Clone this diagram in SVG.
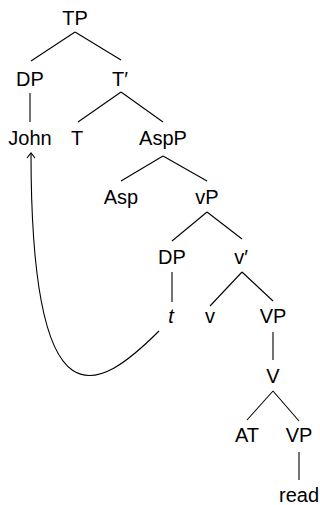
<svg xmlns="http://www.w3.org/2000/svg" width="320" height="505" viewBox="0 0 320 505">
<style>
text{font-family:"Liberation Sans",Arial,sans-serif;font-size:20px;fill:#000;text-anchor:middle}
.it{font-style:italic}
line,path{stroke:#000;stroke-width:1.1;fill:none}
</style>
<defs>
<marker id="ah" viewBox="-6 -5 8 10" markerWidth="8" markerHeight="10" refX="0" refY="0" orient="auto" markerUnits="userSpaceOnUse">
<path d="M-5,-4 L0,0 L-5,4" stroke="#000" stroke-width="1.1" fill="none"/>
</marker>
</defs>
<g id="connectors">
<line x1="75" y1="32" x2="31" y2="61"/>
<line x1="75" y1="32" x2="121" y2="60"/>
<line x1="30" y1="93" x2="30" y2="122"/>
<line x1="121" y1="92" x2="78" y2="122"/>
<line x1="121" y1="92" x2="163" y2="122"/>
<line x1="163" y1="156" x2="121" y2="181"/>
<line x1="163" y1="156" x2="207" y2="181"/>
<line x1="207" y1="212" x2="172" y2="241"/>
<line x1="207" y1="212" x2="242" y2="239"/>
<line x1="172" y1="272" x2="172" y2="302"/>
<line x1="242" y1="272" x2="210" y2="306"/>
<line x1="242" y1="272" x2="273" y2="301"/>
<line x1="273" y1="332" x2="273" y2="360"/>
<line x1="273" y1="391" x2="247" y2="420"/>
<line x1="273" y1="391" x2="299" y2="421"/>
<line x1="299" y1="452" x2="299" y2="480"/>
<path d="M159,331 C99,391 31,435 31,153" marker-end="url(#ah)"/>
</g>
<g id="TP"><text x="75" y="24.5">TP</text></g>
<g id="DP1"><text x="30" y="86">DP</text></g>
<g id="Tbar"><text x="120" y="86">T′</text></g>
<g id="John"><text x="30" y="145">John</text></g>
<g id="T"><text x="77" y="145">T</text></g>
<g id="AspP"><text x="163" y="145">AspP</text></g>
<g id="Asp"><text x="121" y="204">Asp</text></g>
<g id="vP"><text x="207" y="204">vP</text></g>
<g id="DP2"><text x="172" y="264">DP</text></g>
<g id="vbar"><text x="241" y="264">v′</text></g>
<g id="t"><text class="it" x="171" y="323">t</text></g>
<g id="v"><text x="210" y="323">v</text></g>
<g id="VP1"><text x="273" y="323">VP</text></g>
<g id="V"><text x="273" y="383">V</text></g>
<g id="AT"><text x="247" y="442">AT</text></g>
<g id="VP2"><text x="299" y="442">VP</text></g>
<g id="read"><text x="299" y="502">read</text></g>
</svg>
